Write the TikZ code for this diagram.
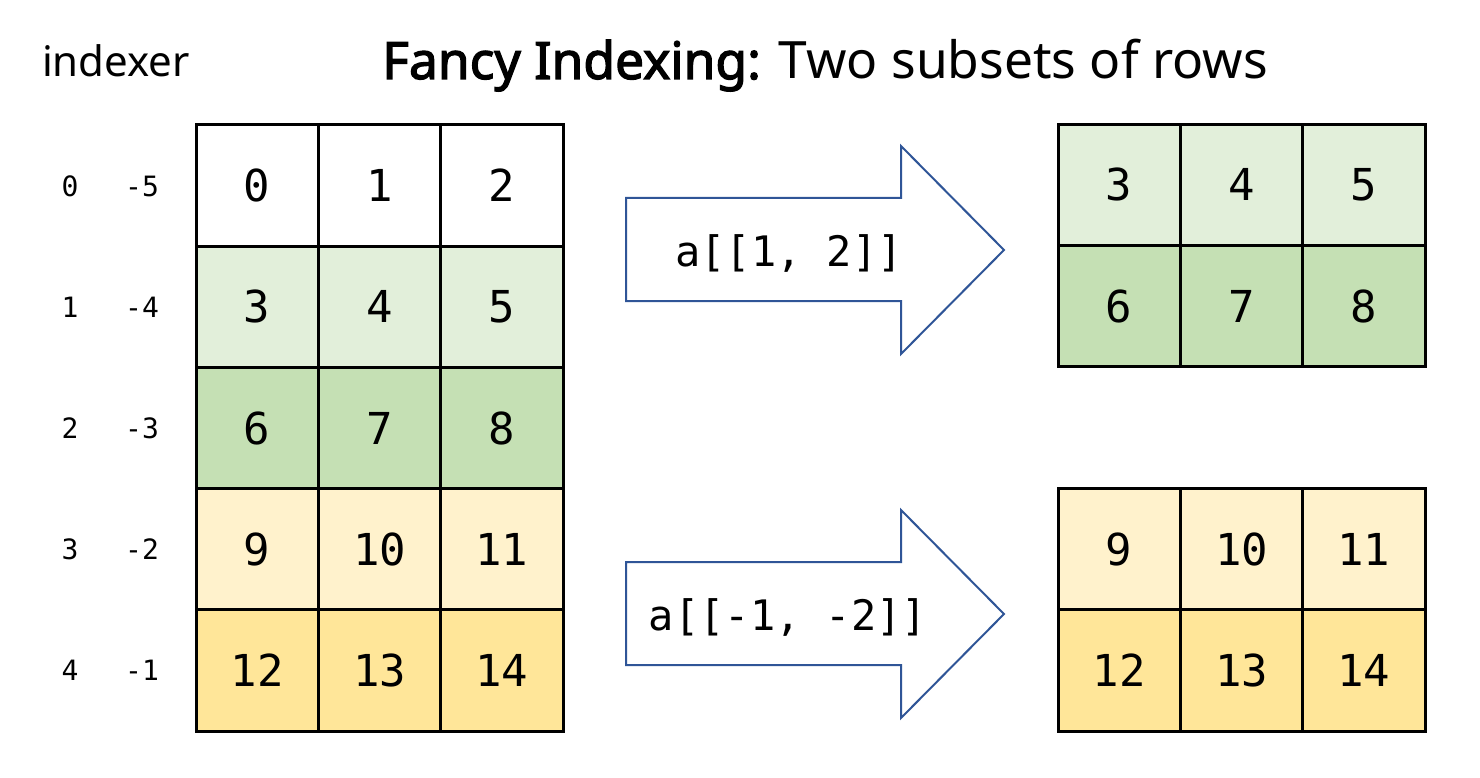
\documentclass[tikz,border=0pt]{standalone}
\usepackage{fontspec}
\setmainfont{Noto Sans}
\newfontfamily\cellmono{DejaVu Sans Mono}
\newfontfamily\titlefont{Noto Sans}
\newfontfamily\titleboldfont[FakeBold=2.5]{Noto Sans}
\definecolor{gA}{HTML}{E2EFDA}
\definecolor{gB}{HTML}{C5E0B4}
\definecolor{yA}{HTML}{FFF2CC}
\definecolor{yB}{HTML}{FFE699}
\definecolor{arrowblue}{HTML}{2F5597}
\tikzset{
  cell/.style={draw=black, line width=3pt, inner sep=0pt, outer sep=0pt,
    minimum width=122.33pt, minimum height=121.2pt,
    font=\cellmono\fontsize{44}{44}\selectfont},
  idx/.style={anchor=base, inner sep=0pt, font=\cellmono\fontsize{28}{28}\selectfont},
  blockarrow/.style={draw=arrowblue, line width=2pt, fill=white, line join=miter},
  arrowlabel/.style={anchor=base, inner sep=0pt, font=\cellmono\fontsize{42}{42}\selectfont},
}
\begin{document}
\begin{tikzpicture}[x=1pt,y=-1pt]
\useasboundingbox (0,0) rectangle (1480,778);
% title
\node[anchor=base, inner sep=0pt, font=\titlefont\fontsize{51.5}{51.5}\selectfont] (title) at (825,79)
  {{\titleboldfont Fancy Indexing:} Two subsets of rows};
\node[anchor=base, inner sep=0pt, font=\titlefont\fontsize{42}{42}\selectfont] (indexer) at (116,77) {indexer};
% left grid
\foreach \r/\fc/\yc/\pi/\ni in {0/white/185.6/0/-5, 1/gA/306.8/1/-4, 2/gB/428.0/2/-3, 3/yA/549.2/3/-2, 4/yB/670.4/4/-1}{
  \node[idx] (p\r) at (70,\yc+10.5) {\pi};
  \node[idx] (n\r) at (142,\yc+10.5) {\ni};
  \foreach \c/\xc in {0/257.17, 1/379.5, 2/501.83}{
    \pgfmathtruncatemacro{\v}{3*\r+\c}
    \node[cell, fill=\fc] (L\r\c) at (\xc,\yc) {\v};
  }
}
% top right grid
\foreach \r/\fc/\yc in {1/gA/184.75, 2/gB/306.25}{
  \foreach \c/\xc in {0/1119.17, 1/1241.5, 2/1363.83}{
    \pgfmathtruncatemacro{\v}{3*\r+\c}
    \node[cell, fill=\fc] (T\r\c) at (\xc,\yc) {\v};
  }
}
% bottom right grid
\foreach \r/\fc/\yc in {3/yA/549.5, 4/yB/670.5}{
  \foreach \c/\xc in {0/1119.17, 1/1241.5, 2/1363.83}{
    \pgfmathtruncatemacro{\v}{3*\r+\c}
    \node[cell, fill=\fc] (B\r\c) at (\xc,\yc) {\v};
  }
}
% arrows
\draw[blockarrow] (626,198) -- (901,198) -- (901,146) -- (1004,250) -- (901,354) -- (901,301) -- (626,301) -- cycle;
\node[arrowlabel] (a1) at (789,266) {a[[1, 2]]};
\draw[blockarrow] (626,562) -- (901,562) -- (901,510) -- (1004,614) -- (901,718) -- (901,665) -- (626,665) -- cycle;
\node[arrowlabel] (a2) at (788,630) {a[[-1, -2]]};
\end{tikzpicture}
\end{document}
